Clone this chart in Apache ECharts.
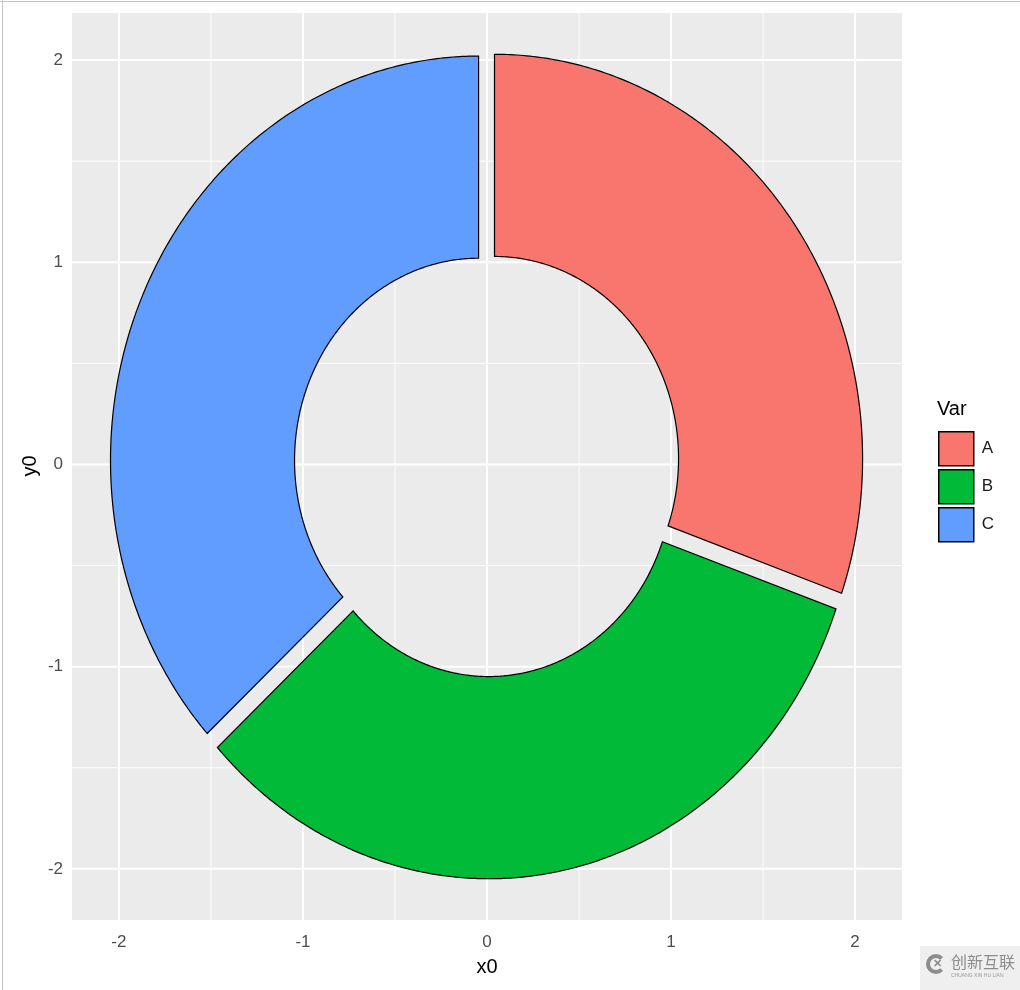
<!DOCTYPE html>
<html><head><meta charset="utf-8">
<script src="https://cdn.jsdelivr.net/npm/echarts@6/dist/echarts.min.js"></script>
<style>html,body{margin:0;padding:0;background:#fff}#c{width:1020px;height:990px}</style>
</head><body><div id="c"></div>
<script>
// ---- data ----
const categories = ['A', 'B', 'C'];
const values = [30.4, 32.8, 36.8];
const explodeAmount = [0.05, 0.05, 0.05];
const innerRadius = 1;
const outerRadius = 2;
const colors = ['#F8766D', '#00BA38', '#619CFF'];
const majorTicks = [-2, -1, 0, 1, 2];
const minorTicks = [-1.5, -0.5, 0.5, 1.5];
const xLimits = [-2.255, 2.255];
const yLimits = [-2.253, 2.233];

// ---- angles (clockwise from 12 o'clock) ----
const total = values.reduce((a, b) => a + b, 0);
const starts = [], ends = [];
let acc = 0;
values.forEach(v => { starts.push(acc / total * 2 * Math.PI); acc += v; ends.push(acc / total * 2 * Math.PI); });

function sliceRender(i) {
  return function (params, api) {
    const a0 = starts[i], a1 = ends[i], mid = (a0 + a1) / 2;
    const dx = explodeAmount[i] * Math.sin(mid), dy = explodeAmount[i] * Math.cos(mid);
    const n = Math.max(8, Math.ceil((a1 - a0) / (2 * Math.PI) * 720));
    const pts = [];
    for (let k = 0; k <= n; k++) {
      const a = a0 + (a1 - a0) * k / n;
      pts.push(api.coord([dx + outerRadius * Math.sin(a), dy + outerRadius * Math.cos(a)]));
    }
    for (let k = n; k >= 0; k--) {
      const a = a0 + (a1 - a0) * k / n;
      pts.push(api.coord([dx + innerRadius * Math.sin(a), dy + innerRadius * Math.cos(a)]));
    }
    return { type: 'polygon', shape: { points: pts },
      style: { fill: colors[i], stroke: '#000', lineWidth: 1.2, lineJoin: 'miter' } };
  };
}

function gridRender(vertical) {
  return function (params, api) {
    const v = vertical ? api.value(0) : api.value(1);
    const major = majorTicks.indexOf(v) >= 0;
    let p1, p2;
    if (vertical) { p1 = api.coord([v, yLimits[0]]); p2 = api.coord([v, yLimits[1]]); }
    else { p1 = api.coord([xLimits[0], v]); p2 = api.coord([xLimits[1], v]); }
    return { type: 'line', shape: { x1: p1[0], y1: p1[1], x2: p2[0], y2: p2[1] },
      style: { stroke: '#FFFFFF', lineWidth: major ? 2 : 1 } };
  };
}

const gridVals = minorTicks.concat(majorTicks);
const series = [
  { type: 'custom', name: '_gx', z: 1, silent: true, renderItem: gridRender(true),
    data: gridVals.map(v => [v, 0]) },
  { type: 'custom', name: '_gy', z: 1, silent: true, renderItem: gridRender(false),
    data: gridVals.map(v => [0, v]) }
];
categories.forEach((c, i) => {
  series.push({ type: 'custom', name: c, z: 3, renderItem: sliceRender(i), data: [[0, 0]],
    itemStyle: { color: colors[i], borderColor: '#000', borderWidth: 1 } });
});

const axisFont = 'Liberation Sans, Arial, sans-serif';
const chart = echarts.init(document.getElementById('c'), null, { renderer: 'canvas' });
chart.setOption({
  animation: false,
  backgroundColor: '#ffffff',
  grid: { left: 72, right: 118, top: 13, bottom: 70, show: true, backgroundColor: '#EBEBEB', borderWidth: 0 },
  xAxis: {
    type: 'value', min: xLimits[0], max: xLimits[1],
    axisLine: { show: false },
    splitLine: { show: false },
    axisTick: { show: true, length: 5, customValues: majorTicks, lineStyle: { color: '#333333', width: 1 } },
    axisLabel: { customValues: majorTicks, margin: 14, color: '#4D4D4D', fontSize: 17, fontFamily: axisFont }
  },
  yAxis: {
    type: 'value', min: yLimits[0], max: yLimits[1],
    axisLine: { show: false },
    splitLine: { show: false },
    axisTick: { show: true, length: 5, customValues: majorTicks, lineStyle: { color: '#333333', width: 1 } },
    axisLabel: { customValues: majorTicks, margin: 9, color: '#4D4D4D', fontSize: 17, fontFamily: axisFont }
  },
  legend: {
    orient: 'vertical', left: 933, top: 426, itemWidth: 35, itemHeight: 34, itemGap: 2.5,
    icon: 'rect', selectedMode: false, padding: 5,
    textStyle: { fontSize: 17, color: '#1A1A1A', fontFamily: axisFont, padding: [0, 0, 0, 3] },
    data: categories.map((c, i) => ({ name: c, itemStyle: { color: colors[i], borderColor: '#000', borderWidth: 1.5 } }))
  },
  graphic: [
    { type: 'line', shape: { x1: 0, y1: 1.5, x2: 1020, y2: 1.5 }, style: { stroke: '#C3C3C3', lineWidth: 1 }, silent: true },
    { type: 'line', shape: { x1: 2.5, y1: 0, x2: 2.5, y2: 990 }, style: { stroke: '#C3C3C3', lineWidth: 1 }, silent: true },
    { type: 'text', x: 937, y: 409, style: { text: 'Var', fontSize: 20, fill: '#000', fontFamily: axisFont, verticalAlign: 'middle' } },
    { type: 'text', x: 487, y: 967, style: { text: 'x0', fontSize: 20, fill: '#000', fontFamily: axisFont, align: 'center', verticalAlign: 'middle' } },
    { type: 'text', x: 30, y: 466, rotation: Math.PI / 2, style: { text: 'y0', fontSize: 20, fill: '#000', fontFamily: axisFont, align: 'center', verticalAlign: 'middle' } },
    { type: 'rect', shape: { x: 920, y: 946, width: 100, height: 44 }, style: { fill: '#EFEFEF' }, silent: true },
    { type: 'arc', shape: { cx: 936, cy: 964, r: 8, startAngle: Math.PI * 0.25, endAngle: Math.PI * 1.75, clockwise: true },
      style: { stroke: '#8C8C8C', lineWidth: 4, fill: null }, silent: true },
    { type: 'text', x: 937, y: 964, style: { text: '✕', fontSize: 11, fill: '#8C8C8C', align: 'center', verticalAlign: 'middle', fontWeight: 'bold' } },
    { type: 'text', x: 951, y: 962, style: { text: '创新互联', fontSize: 16, fill: '#8C8C8C', fontFamily: 'Noto Sans CJK SC', verticalAlign: 'middle' } },
    { type: 'text', x: 951, y: 976, style: { text: 'CHUANG XIN HU LIAN', fontSize: 5, fill: '#9A9A9A', fontFamily: axisFont, verticalAlign: 'middle' } }
  ],
  series: series
});
</script>
</body></html>
